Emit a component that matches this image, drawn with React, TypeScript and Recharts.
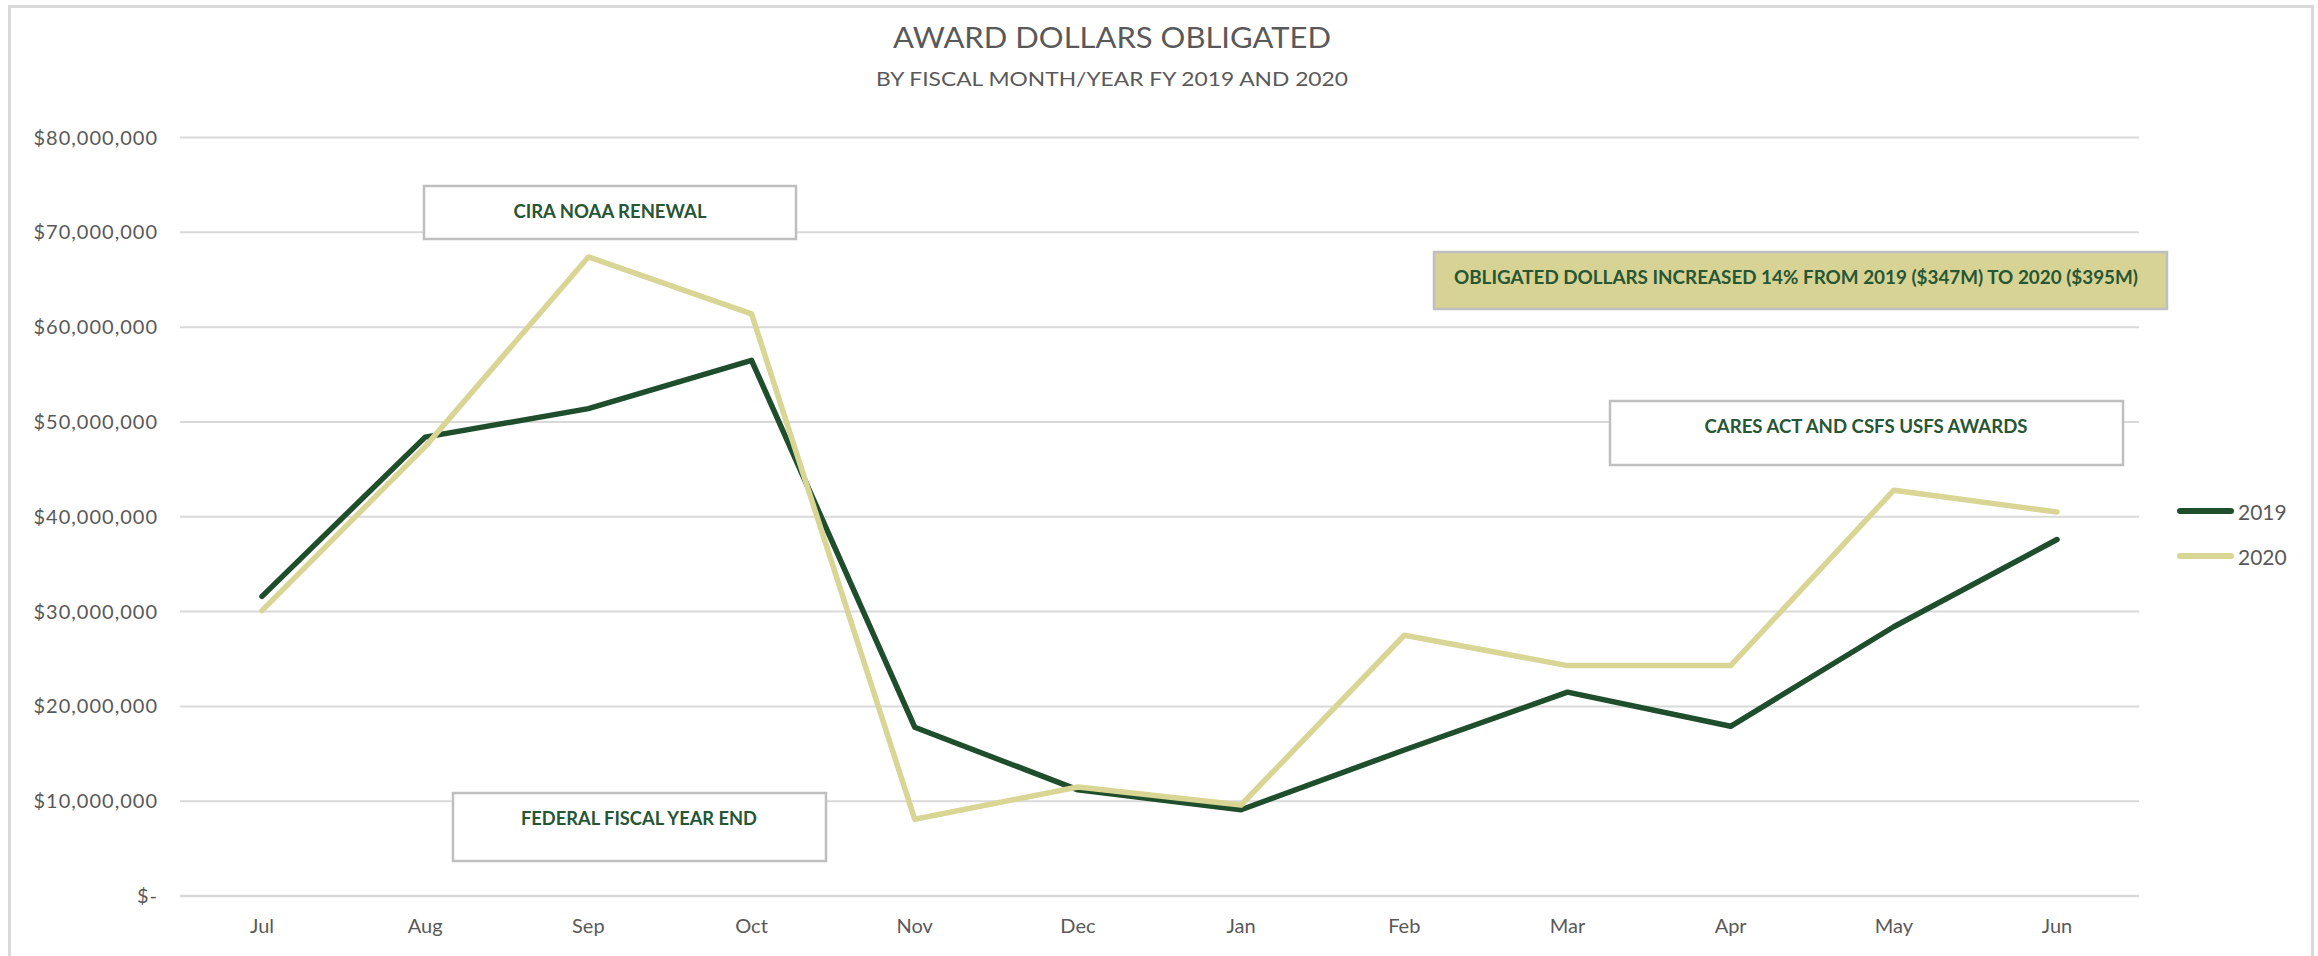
import React from 'react';
import { LineChart, Line, XAxis, YAxis, CartesianGrid } from 'recharts';

const months = ['Jul', 'Aug', 'Sep', 'Oct', 'Nov', 'Dec', 'Jan', 'Feb', 'Mar', 'Apr', 'May', 'Jun'];
const fy2019 = [31600000, 48400000, 51400000, 56500000, 17800000, 11200000, 9100000, 15400000, 21500000, 17900000, 28400000, 37600000];
const fy2020 = [30100000, 47400000, 67400000, 61400000, 8100000, 11500000, 9600000, 27500000, 24300000, 24300000, 42800000, 40500000];
const yTicks = [0, 10000000, 20000000, 30000000, 40000000, 50000000, 60000000, 70000000, 80000000];
const seriesNames = ['2019', '2020'];
const seriesColors = ['#1F4E2C', '#D8D595'];

const title = 'AWARD DOLLARS OBLIGATED';
const subtitle = 'BY FISCAL MONTH/YEAR FY 2019 AND 2020';
const notes = [
  { text: 'CIRA NOAA RENEWAL', x: 424, y: 186, w: 372, h: 53, tx: 610, tl: 193, fill: '#FFFFFF' },
  { text: 'OBLIGATED DOLLARS INCREASED 14% FROM 2019 ($347M) TO 2020 ($395M)', x: 1434, y: 252, w: 733, h: 57, tx: 1796, tl: 684, fill: '#D6D394' },
  { text: 'CARES ACT AND CSFS USFS AWARDS', x: 1610, y: 401, w: 513, h: 64, tx: 1866, tl: 323, fill: '#FFFFFF' },
  { text: 'FEDERAL FISCAL YEAR END', x: 453, y: 793, w: 373, h: 68, tx: 639, tl: 236, fill: '#FFFFFF' },
];

const data = months.map((m, i) => ({ month: m, y2019: fy2019[i], y2020: fy2020[i] }));

const fmt = (v: number) => (v === 0 ? '$-' : '$' + v.toLocaleString('en-US'));
const FONT = 'Lato, "Open Sans", sans-serif';

export default function App() {
  return (
    <div style={{ position: 'absolute', left: 0, top: 0, width: 2318, height: 956, overflow: 'hidden', background: '#fff' }}>
      <div style={{ position: 'absolute', left: 8, top: 5, width: 2300, height: 1000, border: '3px solid #d9d9d9' }} />
      <div style={{ position: 'absolute', left: 0, top: 0 }}>
        <LineChart width={2318} height={956} data={data} margin={{ top: 137.5, right: 179, bottom: 0, left: 0 }}>
          <CartesianGrid vertical={false} stroke="#d9d9d9" strokeWidth={2} />
          <XAxis
            dataKey="month"
            height={60}
            padding={{ left: 82, right: 82 }}
            axisLine={{ stroke: '#d9d9d9', strokeWidth: 2.5 }}
            tickLine={false}
            tickMargin={17}
            tick={{ fill: '#595959', fontSize: 20, fontFamily: FONT }}
          />
          <YAxis
            width={180}
            domain={[0, 80000000]}
            ticks={yTicks}
            tickFormatter={fmt}
            axisLine={false}
            tickLine={false}
            tickMargin={16}
            tick={{ fill: '#595959', fontSize: 20, fontFamily: FONT, letterSpacing: 1 }}
          />
          <Line type="linear" dataKey="y2019" name={seriesNames[0]} stroke={seriesColors[0]} strokeWidth={5.5} dot={false} isAnimationActive={false} strokeLinecap="round" strokeLinejoin="round" />
          <Line type="linear" dataKey="y2020" name={seriesNames[1]} stroke={seriesColors[1]} strokeWidth={5.5} dot={false} isAnimationActive={false} strokeLinecap="round" strokeLinejoin="round" />
        </LineChart>
      </div>
      <svg width={2318} height={956} style={{ position: 'absolute', left: 0, top: 0, pointerEvents: 'none' }}>
        <text x={1112} y={37} textAnchor="middle" dominantBaseline="central" fill="#595959" fontSize={28} fontFamily={FONT} textLength={438} lengthAdjust="spacingAndGlyphs">{title}</text>
        <text x={1112} y={78} textAnchor="middle" dominantBaseline="central" fill="#595959" fontSize={20} fontFamily={FONT} textLength={472} lengthAdjust="spacingAndGlyphs">{subtitle}</text>
        {notes.map((n) => (
          <g key={n.text}>
            <rect x={n.x} y={n.y} width={n.w} height={n.h} fill={n.fill} stroke="#bfbfbf" strokeWidth={2.5} />
            <text x={n.tx} y={n.y + 24} textAnchor="middle" dominantBaseline="central" fill="#265634" fontWeight={700} fontSize={19} fontFamily={FONT} textLength={n.tl} lengthAdjust="spacingAndGlyphs">{n.text}</text>
          </g>
        ))}
        {seriesNames.map((s, i) => (
          <g key={s}>
            <line x1={2180} x2={2231} y1={511 + i * 45} y2={511 + i * 45} stroke={seriesColors[i]} strokeWidth={6} strokeLinecap="round" />
            <text x={2238} y={511 + i * 45} dominantBaseline="central" fill="#595959" fontSize={21} fontFamily={FONT}>{s}</text>
          </g>
        ))}
      </svg>
    </div>
  );
}
